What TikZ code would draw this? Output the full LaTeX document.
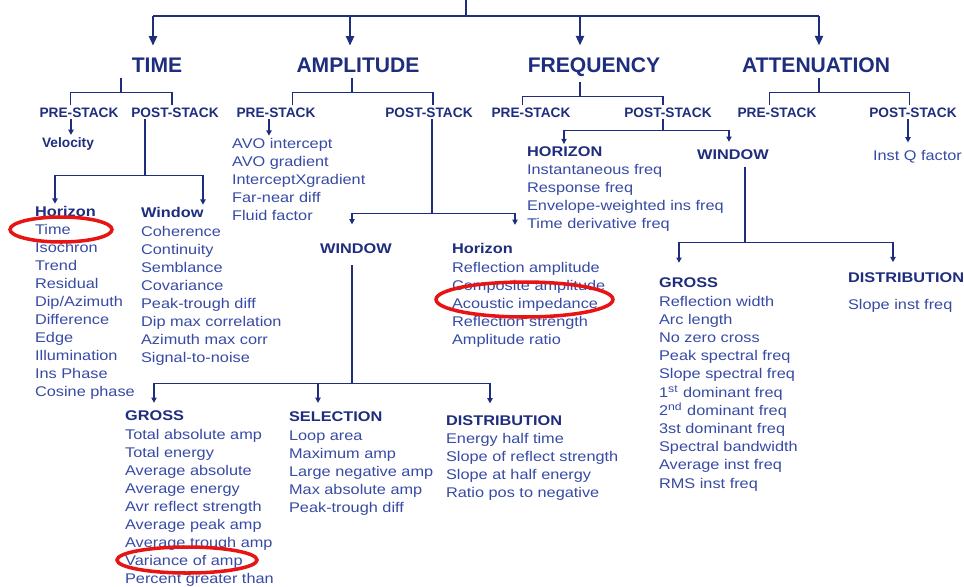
\documentclass[tikz,border=0pt]{standalone}
\usepackage{fontspec}
\setmainfont{Liberation Sans}
\newfontfamily\widefont[FakeStretch=1.16]{Liberation Sans}
\usetikzlibrary{arrows.meta, positioning}
\definecolor{navy}{RGB}{30,45,125}
\definecolor{itemblue}{RGB}{55,75,165}
\definecolor{ringred}{RGB}{232,20,20}
\tikzstyle{every picture} = [x=0.02cm, y=-0.02cm]
\tikzstyle{head} = [text=navy, font=\fontsize{12}{14}\selectfont\bfseries, inner sep=3pt, anchor=base]
\tikzstyle{stack} = [text=navy, font=\fontsize{7.8}{9}\selectfont\bfseries, inner sep=1pt, anchor=base]
\tikzstyle{sub} = [text=navy, font=\widefont\fontsize{8}{9}\selectfont\bfseries, inner sep=1pt, anchor=base west]
\tikzstyle{item} = [text=itemblue, font=\widefont\fontsize{8}{9}\selectfont, inner sep=1pt, anchor=base west]
\tikzstyle{trunk} = [navy, line width=1.4pt]
\tikzstyle{big arrow} = [trunk, -{Triangle[width=4.5pt,length=5.5pt]}]
\tikzstyle{link} = [navy, line width=0.7pt]
\tikzstyle{tip} = [link, -{Triangle[width=3pt,length=3pt]}]
\tikzstyle{ring} = [ringred, line width=2pt]

\begin{document}
\begin{tikzpicture}
\path[use as bounding box, fill=white] (0,0) rectangle (964,586);
\clip (0,0) rectangle (964,586);

% main headings
\node (head 1) [head] at (157,72) {TIME};
\node (head 2) [head] at (358,72) {AMPLITUDE};
\node (head 3) [head] at (594,72) {FREQUENCY};
\node (head 4) [head] at (816,72) {ATTENUATION};

% pre / post stack
\node (stack 1) [stack] at (79,117) {PRE-STACK};
\node (stack 2) [stack] at (175,117) {POST-STACK};
\node (stack 3) [stack] at (276,117) {PRE-STACK};
\node (stack 4) [stack] at (429,117) {POST-STACK};
\node (stack 5) [stack] at (531,117) {PRE-STACK};
\node (stack 6) [stack] at (668,117) {POST-STACK};
\node (stack 7) [stack] at (777,117) {PRE-STACK};
\node (stack 8) [stack] at (913,117) {POST-STACK};

\node (velocity) [stack, anchor=base west] at (40,147) {Velocity};
\node (inst q) [item] at (871,160) {Inst Q factor};

% group headers
\node (sub 1) [sub] at (33,216) {Horizon};
\node (sub 2) [sub] at (139,217) {Window};
\node (sub 3) [sub, anchor=base] at (356,253) {WINDOW};
\node (sub 4) [sub] at (450,253) {Horizon};
\node (sub 5) [sub] at (123,420) {GROSS};
\node (sub 6) [sub] at (287,421) {SELECTION};
\node (sub 7) [sub] at (444,425) {DISTRIBUTION};
\node (sub 8) [sub] at (525,156) {HORIZON};
\node (sub 9) [sub, anchor=base] at (733,159) {WINDOW};
\node (sub 10) [sub] at (657,287) {GROSS};
\node (sub 11) [sub] at (846,282) {DISTRIBUTION};

% lists
\foreach \t [count=\i] in {Time, Isochron, Trend, Residual, Dip/Azimuth, Difference, Edge, Illumination, Ins Phase, Cosine phase}
  \node (time hz \i) [item] at (33,{216+18*\i}) {\t};
\foreach \t [count=\i] in {Coherence, Continuity, Semblance, Covariance, Peak-trough diff, Dip max correlation, Azimuth max corr, Signal-to-noise}
  \node (time win \i) [item] at (139,{218.5+18*\i}) {\t};
\foreach \t [count=\i] in {AVO intercept, AVO gradient, InterceptXgradient, Far-near diff, Fluid factor}
  \node (amp pre \i) [item] at (230,{130+18*\i}) {\t};
\foreach \t [count=\i] in {Reflection amplitude, Composite amplitude, Acoustic impedance, Reflection strength, Amplitude ratio}
  \node (amp hz \i) [item] at (450,{254+18*\i}) {\t};
\foreach \t [count=\i] in {Total absolute amp, Total energy, Average absolute, Average energy, Avr reflect strength, Average peak amp, Average trough amp, Variance of amp, Percent greater than}
  \node (amp gross \i) [item] at (123,{421+18*\i}) {\t};
\foreach \t [count=\i] in {Loop area, Maximum amp, Large negative amp, Max absolute amp, Peak-trough diff}
  \node (amp sel \i) [item] at (287,{422+18*\i}) {\t};
\foreach \t [count=\i] in {Energy half time, Slope of reflect strength, Slope at half energy, Ratio pos to negative}
  \node (amp dist \i) [item] at (444,{425+18*\i}) {\t};
\foreach \t [count=\i] in {Instantaneous freq, Response freq, Envelope-weighted ins freq, Time derivative freq}
  \node (freq hz \i) [item] at (525,{156+18*\i}) {\t};
\foreach \t [count=\i] in {Reflection width, Arc length, No zero cross, Peak spectral freq, Slope spectral freq, 1\textsuperscript{st} dominant freq, 2\textsuperscript{nd} dominant freq, 3st dominant freq, Spectral bandwidth, Average inst freq, RMS inst freq}
  \node (freq gross \i) [item] at (657,{287.8+18.2*\i}) {\t};
\node (freq dist 1) [item] at (846,309) {Slope inst freq};

% top level
\coordinate (root) at (466,0);
\coordinate (bar) at (466,16);
\draw[link] (root) -- (bar);
\draw[trunk] ([xshift=-0.8mm]head 1.north |- bar) -- ([xshift=0.6mm]head 4.north |- bar);
\foreach \n/\s in {1/-0.8mm, 2/-1.6mm, 3/-2.8mm, 4/0.6mm}
  \draw[big arrow, shorten >=3.5pt] ([xshift=\s]head \n.north |- bar) -- ([xshift=\s]head \n.north);

% stack brackets
\draw[link] ([xshift=-7.2mm]head 1.south) -- ++(0,15) coordinate (fork 1);
\draw[link] ([xshift=-1.7mm]stack 1.north) |- (fork 1) -| ([xshift=-0.6mm]stack 2.north);
\draw[link] ([xshift=-1.2mm]head 2.south) -- ++(0,15) coordinate (fork 2);
\draw[link] ([xshift=3.3mm]stack 3.north) |- (fork 2) -| ([xshift=0.8mm]stack 4.north);
\draw[link] ([xshift=-2.8mm]head 3.south) -- ++(0,15) coordinate (fork 3);
\draw[link] ([xshift=-1.7mm]stack 5.north) |- (fork 3) -| ([xshift=-1mm]stack 6.north);
\draw[link] ([xshift=0.6mm]head 4.south) -- ++(0,15) coordinate (fork 4);
\draw[link] ([xshift=-1.5mm]stack 7.north) |- (fork 4) -| ([xshift=-0.7mm]stack 8.north);

% time
\draw[tip] ([xshift=6.2mm]velocity.north west |- stack 1.south) -- ([xshift=6.2mm]velocity.north west);
\draw[link, line width=1pt] ([xshift=-6mm]stack 2.south) -- ++(0,56) coordinate (fork 5);
\draw[tip] (fork 5) -| ([xshift=4.4mm]sub 1.north west);
\draw[tip] (fork 5) -| ([xshift=12.8mm]sub 2.north west);

% amplitude
\draw[tip] ([xshift=7.8mm]amp pre 1.north west |- stack 3.south) -- ([xshift=7.8mm]amp pre 1.north west);
\draw[link] ([xshift=0.6mm]stack 4.south) -- ++(0,94) coordinate (fork 6);
\draw[tip, shorten >=9.5pt] (fork 6) -| ([xshift=-0.8mm]sub 3.north);
\draw[tip, shorten >=9pt] (fork 6) -| ([xshift=13mm]sub 4.north west);
\draw[link, shorten <=5.5pt] ([xshift=-0.8mm]sub 3.south) -- ++(0,128) coordinate (fork 7);
\draw[tip, shorten >=3pt] (fork 7) -| ([xshift=6.2mm]sub 5.north west);
\draw[tip, shorten >=3.5pt] (fork 7) -| ([xshift=6.2mm]sub 6.north west);
\draw[tip, shorten >=5.5pt] (fork 7) -| ([xshift=9.2mm]sub 7.north west);

% frequency
\draw[link] ([xshift=-1mm]stack 6.south) -- ++(0,11) coordinate (fork 8);
\draw[tip] (fork 8) -| ([xshift=7.8mm]sub 8.north west);
\draw[tip, shorten >=3pt] (fork 8) -| ([xshift=-0.8mm]sub 9.north);
\draw[link, shorten <=3pt] ([xshift=2.4mm]sub 9.south) -- ++(0,81) coordinate (fork 9);
\draw[tip, shorten >=7pt] (fork 9) -| ([xshift=4.4mm]sub 10.north west);
\draw[tip, shorten >=4.5pt] (fork 9) -| ([xshift=9.4mm]sub 11.north west);

% attenuation
\draw[tip, shorten >=3pt] ([xshift=7.4mm]inst q.north west |- stack 8.south) -- ([xshift=7.4mm]inst q.north west);

% marks
\draw[ring] (61,229.5) ellipse [x radius=10.2mm, y radius=2.5mm];
\draw[ring] (524.5,299.5) ellipse [x radius=17.7mm, y radius=3.5mm];
\draw[ring] (187,560) ellipse [x radius=14mm, y radius=2.6mm];
\end{tikzpicture}
\end{document}
